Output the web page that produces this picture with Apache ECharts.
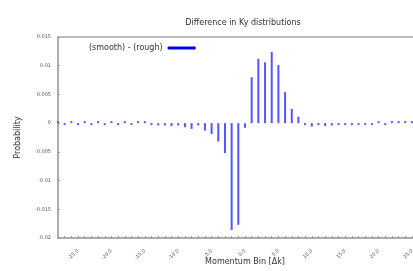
<!DOCTYPE html>
<html>
<head>
<meta charset="utf-8">
<script src="https://cdn.jsdelivr.net/npm/echarts@6/dist/echarts.min.js"></script>
<style>
  html, body { margin: 0; padding: 0; background: #fff; }
  #main { width: 413px; height: 271px; }
</style>
</head>
<body>
<div id="main"></div>
<script>
// momentum bins -28 .. 28
const bins = [];
for (let b = -28; b <= 28; b++) bins.push(b);

// (smooth) - (rough)
const diff = [
  0.0003, -0.0002, 0.0001, -0.0002, 0.0001, -0.0002, 0.0002, -0.0003, 0.0001, -0.0002,
  0.0001, -0.0002, 0.0002, 0.0002, -0.0003, -0.0004, -0.0004, -0.0005, -0.0004, -0.0007,
  -0.0010, -0.0004, -0.0013, -0.0019, -0.0032, -0.0052, -0.0186, -0.0177, -0.0008, 0.0080,
  0.0112, 0.0106, 0.0124, 0.0101, 0.0054, 0.0025, 0.0011, -0.0003, -0.0006, -0.0003,
  -0.0005, -0.0004, -0.0003, -0.0003, -0.0002, -0.0003, -0.0002, -0.0002, 0.0001, -0.0002,
  0.0001, 0.0001, 0.0001, 0.0001, 0.0001, 0.0001, 0.0001
];

const yTicks = [-0.02, 0.015];
const seriesName = "(smooth) - (rough)";
const font = "DejaVu Sans";
const frame = { color: "#a8a8a8", width: 1.5 };

let myChart = echarts.init(document.getElementById("main"));
myChart.setOption({
  animation: false,
  title: {
    text: "Difference in Ky distributions",
    left: 238,
    top: 14,
    textAlign: "center",
    textStyle: { fontSize: 8, fontWeight: "normal", color: "#333", fontFamily: font }
  },
  legend: {
    left: 84,
    top: 39,
    align: "right",
    icon: "rect",
    itemWidth: 28,
    itemHeight: 3,
    itemGap: 4,
    data: [{ name: seriesName, itemStyle: { color: "#0000ee" } }],
    textStyle: { fontSize: 8, color: "#333", fontFamily: font }
  },
  grid: {
    left: 58,
    top: 37,
    bottom: 33,
    right: -19,
    outerBoundsMode: "none",
    containLabel: false,
    show: true,
    borderColor: frame.color,
    borderWidth: frame.width
  },
  xAxis: {
    type: "value",
    position: "bottom",
    min: -28,
    max: 28,
    interval: 1,
    name: "Momentum Bin [Δk]",
    nameLocation: "middle",
    nameGap: 20,
    nameMoveOverlap: false,
    nameTextStyle: { fontSize: 8, color: "#333", fontFamily: font },
    axisLine: { show: true, onZero: false, lineStyle: frame },
    axisTick: { inside: true, length: 2, lineStyle: { color: "#999" } },
    splitLine: { show: false },
    axisLabel: {
      rotate: 45,
      margin: 12,
      fontSize: 5,
      color: "#555",
      fontFamily: font,
      formatter: v => (v % 5 === 0 ? v.toFixed(1) : "")
    }
  },
  yAxis: {
    type: "value",
    position: "left",
    min: yTicks[0],
    max: yTicks[1],
    interval: 0.005,
    name: "Probability",
    nameLocation: "middle",
    nameGap: 36,
    nameMoveOverlap: false,
    nameTextStyle: { fontSize: 8, color: "#333", fontFamily: font },
    axisLine: { show: true, onZero: false, lineStyle: frame },
    axisTick: { inside: true, length: 2, lineStyle: { color: "#999" } },
    splitLine: { show: false },
    axisLabel: { fontSize: 5, color: "#555", margin: 7, fontFamily: font }
  },
  series: [
    {
      name: seriesName,
      type: "bar",
      barWidth: 2,
      barMinHeight: 2,
      itemStyle: { color: "#5555ff" },
      data: bins.map((b, i) => [b, diff[i]])
    }
  ]
});
</script>
</body>
</html>
